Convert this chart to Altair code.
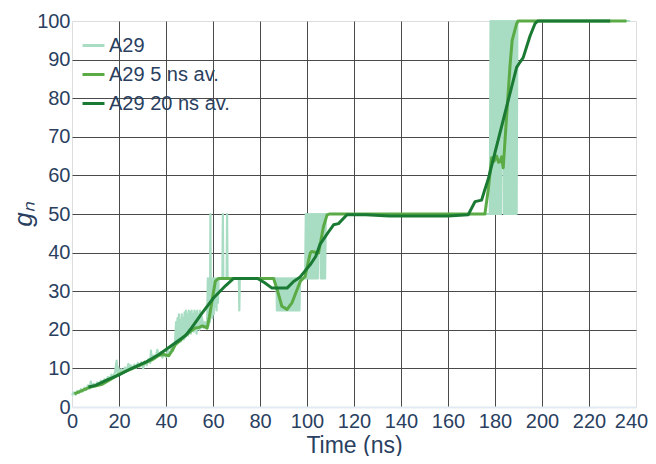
import altair as alt
import pandas as pd

series_names = ["A29", "A29 5 ns av.", "A29 20 ns av."]
series_colors = ["#a8dcc3", "#5aab46", "#1a7a33"]
series_widths = [2.2, 3, 3]

x_ticks = list(range(0, 241, 20))
y_ticks = list(range(0, 101, 10))

# raw A29 trace (time ns, g_n)
raw_rise = [(0, 3.0), (0.8, 3.8), (1.5, 3.2), (2.3, 4.2), (3, 3.6), (3.8, 4.6), (4.5, 4.0), (5.3, 5.0),
            (6, 4.4), (6.8, 5.6), (7.5, 4.8), (8, 6.6), (8.6, 5.2), (9.3, 6.0), (10, 5.4), (10.8, 6.4),
            (11.5, 5.8), (12.3, 6.8), (13, 6.2), (13.8, 7.2), (14.5, 6.8), (15.3, 7.8), (16, 7.2), (16.8, 8.4),
            (17.5, 7.8), (18.3, 9.0), (19, 12.0), (19.3, 8.6), (19.6, 10.4), (20.3, 8.8), (21, 9.8), (21.8, 9.0),
            (22.5, 10.2), (23.3, 9.4), (24, 11.2), (24.5, 9.6), (25, 10.8), (25.8, 9.8), (26.5, 11.0), (27.3, 10.2),
            (28, 11.4), (28.8, 10.4), (29.5, 11.6), (30.3, 10.0), (31, 11.8), (31.8, 10.8), (32.5, 12.4), (33.3, 11.4),
            (33.6, 14.6), (34, 12.2), (34.8, 13.4), (35.5, 12.6), (36.3, 14.8), (37, 13.2), (37.8, 14.2), (38.5, 12.8),
            (39.3, 13.8), (40, 13.0), (40.8, 14.6), (41.5, 13.4), (42.3, 15.4), (43, 14.6), (43.8, 16.6)]
raw_band_a = [(44.3, 22), (44.6, 17), (44.9, 23), (45.2, 17.5), (45.5, 24), (45.8, 18), (46.1, 22.5), (46.4, 17),
              (46.7, 24), (47.0, 18.5), (47.3, 23), (47.6, 17.5), (47.9, 24.5), (48.2, 18), (48.5, 25), (48.8, 19),
              (49.1, 24), (49.4, 18.5), (49.7, 25), (50.0, 19.5), (50.3, 24.5), (50.6, 19), (50.9, 25), (51.2, 20),
              (51.5, 24), (51.8, 19.5), (52.1, 25), (52.4, 20), (52.7, 24.5), (53.0, 19), (53.3, 25), (53.6, 20.5),
              (53.9, 24), (54.2, 20), (54.5, 25), (54.8, 20.5), (55.1, 23.5)]
raw_mid = [(55.5, 22.5), (56, 20.5), (56.5, 22), (57, 20.5), (57.5, 22)]
raw_band_b = [(57.8, 33.3), (58.1, 21), (58.4, 33.3), (58.7, 22), (58.9, 50), (59.1, 24), (59.4, 33.3), (59.7, 23),
              (60, 33.3), (60.3, 24), (60.6, 33.3), (60.9, 26), (61.2, 33.3), (61.5, 25), (61.8, 33.3), (62.1, 27),
              (62.4, 33.3)]
raw_plateau = [(64.0, 33.3), (64.2, 50), (64.4, 33.3), (65.8, 33.3), (66.0, 50), (66.2, 33.3), (71.0, 33.3),
               (71.2, 25), (71.4, 33.3), (87.0, 33.3)]
raw_band_c = [(87.2, 25), (87.5, 33.3), (87.8, 25), (88.1, 33.3), (88.4, 25), (88.7, 33.3), (89.0, 25), (89.3, 33.3),
              (89.6, 25), (89.9, 33.3), (90.2, 25), (90.5, 33.3), (90.8, 25), (91.1, 33.3), (91.4, 25), (91.7, 33.3),
              (92.0, 25), (92.3, 33.3), (92.6, 25), (92.9, 33.3), (93.2, 25), (93.5, 33.3), (93.8, 25), (94.1, 33.3),
              (94.4, 25), (94.7, 33.3), (95.0, 25), (95.3, 33.3), (95.6, 25), (95.9, 33.3), (96.2, 25), (96.5, 33.3),
              (96.8, 25), (97.1, 33.3)]
raw_band_d = [(99.2, 33.3), (99.5, 50), (99.8, 33.3), (100.1, 50), (100.4, 33.3), (100.7, 50), (101.0, 33.3),
              (101.3, 50), (101.6, 33.3), (101.9, 50), (102.2, 33.3), (102.5, 50), (102.8, 33.3), (103.1, 50),
              (103.4, 33.3), (103.7, 50), (104.0, 33.3), (104.3, 50), (104.6, 33.3), (104.9, 50), (105.6, 50),
              (105.9, 33.3), (106.2, 50), (106.5, 33.3), (106.8, 50), (107.1, 33.3), (107.4, 50), (107.7, 33.3),
              (108.0, 50), (177.8, 50)]
raw_band_e = [(178.1, 100), (178.4, 50), (178.7, 100), (179.0, 50), (179.3, 100), (179.6, 50), (179.9, 100),
              (180.2, 50), (180.5, 100), (180.8, 50), (181.1, 100), (181.4, 50), (181.7, 100), (182.0, 50),
              (182.3, 100), (182.6, 50), (182.9, 100), (183.5, 100), (183.8, 50), (184.1, 100), (184.4, 50),
              (184.7, 100), (185.0, 50), (185.3, 100), (185.6, 50), (185.9, 100), (186.2, 50), (186.5, 100),
              (186.8, 50), (187.1, 100), (187.4, 50), (187.7, 100), (188.0, 50), (188.3, 100), (188.6, 50),
              (188.9, 100), (189.2, 50), (189.5, 100), (237.5, 100)]
raw = raw_rise + raw_band_a + raw_mid + raw_band_b + raw_plateau + raw_band_c + raw_band_d + raw_band_e

avg5 = [(1, 3.4), (4, 4.2), (8, 5.2), (12.9, 5.9), (16, 7.0), (20, 8.5), (25, 9.8), (28, 10.6), (31.3, 11.5),
        (34, 12.2), (37, 13.4), (39, 13.6), (41.2, 13.3), (42.5, 14.5), (44, 16.2), (46, 17.2), (48.3, 18.6),
        (50.5, 19.6), (52.5, 20.5), (54, 20.6), (55.4, 21.0), (56.5, 20.8), (57.5, 20.4), (58.5, 23.5), (60, 29),
        (61, 32.6), (62.4, 33.3), (85.8, 33.3), (87.5, 30), (89.3, 26.1), (91.5, 25.3), (93.6, 27), (95.5, 30),
        (97.2, 32.6), (99.2, 33.8), (100.5, 37.5), (101.4, 39.9), (102, 40.3), (104.9, 39.9), (107, 46.7),
        (108.5, 49.7), (109.5, 50), (175.7, 50), (177.1, 56.2), (178.6, 64.6), (179.5, 63.6), (180.7, 65),
        (181.5, 63.4), (182.1, 63.5), (182.8, 64.8), (183.5, 62), (184.9, 75), (186.4, 88.5), (187.3, 95),
        (189.2, 99.3), (189.8, 100), (236, 100)]

avg20 = [(7, 5.2), (10, 5.6), (15, 7.0), (20, 8.3), (25, 9.9), (31.3, 11.6), (37, 13.6), (43, 16.2), (48.3, 18.5),
         (50.5, 20.2), (55.4, 24.4), (60.3, 28.3), (65.3, 31.4), (68.8, 33.3), (79, 33.3), (82, 32.2), (85.1, 30.8),
         (91.5, 30.8), (94.3, 32.5), (97.1, 33.7), (101.4, 36.9), (103.7, 39), (105.6, 42.2), (109.2, 45.4),
         (111.3, 47.2), (113.4, 47.5), (117, 49.8), (125, 49.8), (135, 49.5), (160, 49.5), (168.6, 49.8),
         (171.5, 53.2), (174.3, 53.6), (175.5, 56), (177.1, 59), (189.2, 88), (190.6, 89.3), (192, 90.5),
         (194.9, 96.1), (197, 99.3), (198.2, 100), (229, 100)]

rows = []
for name, pts in zip(series_names, [raw, avg5, avg20]):
    for i, (t, v) in enumerate(pts):
        rows.append({"series": name, "t": t, "g": v, "i": i})
df = pd.DataFrame(rows)

text_color = "#2a3f5f"
font = "Liberation Sans"

x_axis = alt.Axis(
    values=x_ticks, title="Time (ns)", labelFont=font, labelFontSize=20, labelColor=text_color,
    ticks=False, domain=False, labelPadding=4, labelFlush=False,
    labelOffset={"condition": {"test": "datum.value == 240", "value": -5}, "value": 0},
    gridColor={"condition": {"test": "datum.value == 0 || datum.value == 240", "value": "transparent"},
               "value": "#4a4a4a"},
    gridWidth=1, titleFont=font, titleFontSize=23, titleFontWeight="normal", titleColor=text_color,
    titleY=38, titleBaseline="middle",
)
y_axis = alt.Axis(
    values=y_ticks, title="gₙ", labelFont=font, labelFontSize=20, labelColor=text_color,
    ticks=False, domain=False, labelPadding=2,
    gridColor={"condition": [{"test": "datum.value == 0", "value": "#e3e9f2"},
                             {"test": "datum.value == 100", "value": "transparent"}],
               "value": "#4a4a4a"},
    gridWidth={"condition": {"test": "datum.value == 0", "value": 2}, "value": 1},
    titleFont=font, titleFontSize=26, titleFontStyle="italic", titleFontWeight="normal", titleColor=text_color,
    titleX=-49, titleY=193, titleBaseline="middle", titleAlign="center", titleAngle=270,
)

color = alt.Color(
    "series:N",
    scale=alt.Scale(domain=series_names, range=series_colors),
    legend=alt.Legend(
        title=None, orient="none", legendX=9, legendY=12, symbolType="stroke", symbolSize=484,
        symbolStrokeWidth=3, labelFont=font, labelFontSize=20, labelColor=text_color, labelOffset=3,
        rowPadding=6, padding=0, labelLimit=300,
    ),
)

base = alt.Chart(df).encode(
    x=alt.X("t:Q", scale=alt.Scale(domain=[0, 240], nice=False, zero=False), axis=x_axis),
    y=alt.Y("g:Q", scale=alt.Scale(domain=[0, 100], nice=False), axis=y_axis),
    color=color,
    order=alt.Order("i:Q"),
)

layers = [
    base.transform_filter(alt.datum.series == name).mark_line(strokeWidth=w, clip=False, strokeJoin="round")
    for name, w in zip(series_names, series_widths)
]

chart = alt.layer(*layers).properties(
    width=564, height=386,
    autosize=alt.AutoSizeParams(type="none"),
    padding={"left": 64, "top": 13, "right": 12, "bottom": 49},
).configure_view(stroke=None).configure(font=font)

chart.save("out.html", embed_options={"renderer": "svg", "actions": False})
